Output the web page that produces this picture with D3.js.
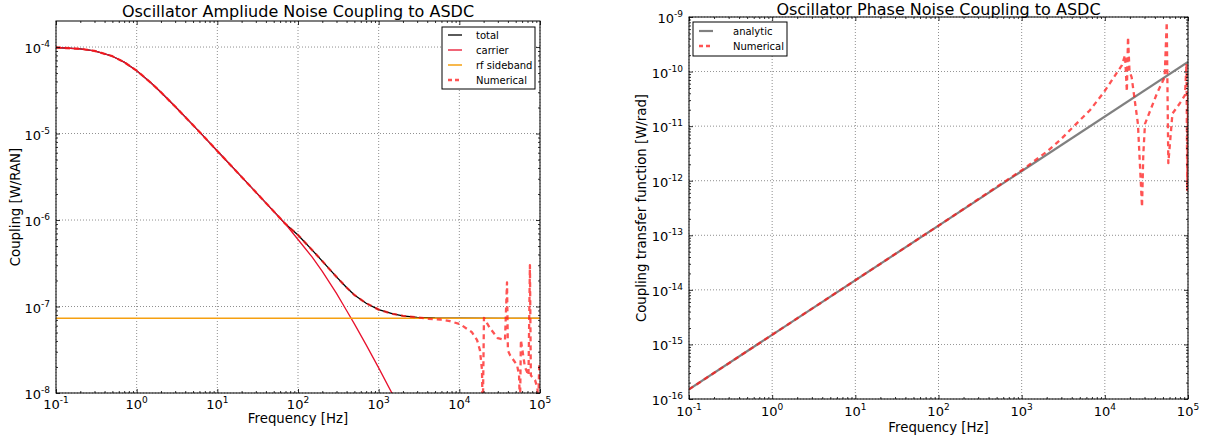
<!DOCTYPE html>
<html>
<head>
<meta charset="utf-8">
<script src="https://cdn.jsdelivr.net/npm/d3@7"></script>
<style>
    body { margin: 0; background: #fff; }
    svg { font-family: "DejaVu Sans", sans-serif; }
    .grid line { stroke: #000; stroke-width: 0.8; stroke-dasharray: 1, 2; opacity: 0.55; }
    .tick line { stroke: #000; stroke-width: 0.8; }
</style>
</head>
<body>
<svg id="chart" width="1206" height="440"></svg>
<script>
// amplitude noise coupling (left)
const ampFreq = [0.1, 0.2, 0.3, 0.5, 0.7, 1, 1.5, 2, 3, 5, 7, 10, 20, 30, 50, 70, 100, 150, 200, 300, 400, 500, 700, 1000, 1500, 2000, 3000, 5000, 10000, 100000];
const ampTotal = [9.88e-5, 9.53e-5, 9.03e-5, 7.83e-5, 6.69e-5, 5.33e-5, 3.87e-5, 3.0e-5, 2.05e-5, 1.25e-5, 8.96e-6, 6.29e-6, 3.15e-6, 2.1e-6, 1.26e-6, 9.0e-7, 6.71e-7, 4.49e-7, 3.35e-7, 2.2e-7, 1.66e-7, 1.36e-7, 1.09e-7, 9.2e-8, 8.2e-8, 7.8e-8, 7.5e-8, 7.37e-8, 7.32e-8, 7.3e-8];
const carrierFreq = [0.1, 0.2, 0.3, 0.5, 0.7, 1, 1.5, 2, 3, 5, 7, 10, 20, 30, 50, 70, 100, 150, 200, 300, 400, 500, 700, 1000, 1500, 2000];
const ampCarrier = [9.88e-5, 9.53e-5, 9.03e-5, 7.83e-5, 6.69e-5, 5.33e-5, 3.87e-5, 3.0e-5, 2.05e-5, 1.25e-5, 8.96e-6, 6.29e-6, 3.15e-6, 2.1e-6, 1.26e-6, 9.0e-7, 5.95e-7, 3.72e-7, 2.55e-7, 1.42e-7, 9.0e-8, 6.3e-8, 3.6e-8, 1.95e-8, 9.5e-9, 6e-9];
const sidebandFreq = [0.1, 100000];
const ampSideband = [7.3e-8, 7.3e-8];
const ampNumFreq = [0.1, 0.2, 0.3, 0.5, 0.7, 1, 1.5, 2, 3, 5, 7, 10, 20, 30, 50, 70, 100, 150, 200, 300, 400, 500, 700, 1000, 1500, 2000, 3000,
    4200, 5750, 7650, 10200, 14300, 16600, 18000, 19100, 19500, 20200, 24000, 30000, 36800, 39000, 40000, 42500, 52000, 55000, 56500, 58000,
    65000, 72000, 75000, 77000, 87000, 93000, 95000, 98000, 100000];
const ampNum = [9.88e-5, 9.53e-5, 9.03e-5, 7.83e-5, 6.69e-5, 5.33e-5, 3.87e-5, 3.0e-5, 2.05e-5, 1.25e-5, 8.96e-6, 6.29e-6, 3.15e-6, 2.1e-6, 1.26e-6, 9.0e-7, 6.71e-7, 4.49e-7, 3.35e-7, 2.2e-7, 1.66e-7, 1.36e-7, 1.09e-7, 9.2e-8, 8.2e-8, 7.8e-8, 7.5e-8,
    7.2e-8, 7.08e-8, 6.77e-8, 6.25e-8, 5.06e-8, 4.09e-8, 3.13e-8, 1.84e-8, 5e-9, 7.4e-8, 5.6e-8, 4.3e-8, 4.1e-8, 1.9e-7, 3.1e-8, 2.74e-8, 2.1e-8, 1.6e-8, 7e-9, 4.1e-8,
    2e-8, 1.6e-8, 3e-7, 1.6e-8, 1.4e-8, 1.14e-8, 7e-9, 2.2e-8, 1.4e-8];

// phase noise coupling (right)
const phaseFreq = [0.1, 100000];
const phaseAnalytic = [1.5e-16, 1.5e-10];
const phaseNumFreq = [0.1, 1, 10, 100, 1000, 2000, 2880, 4140, 6620, 9770, 16000, 17500, 18400, 19000, 19800, 21000, 25000, 28000, 29000, 30400,
    42400, 52400, 55500, 58000, 65000, 79500, 92000, 96000, 98000, 100000];
const phaseNum = [1.5e-16, 1.5e-15, 1.5e-14, 1.5e-13, 1.55e-12, 3.4e-12, 5.5e-12, 9.6e-12, 1.96e-11, 4.2e-11, 1.3e-10, 2e-10, 4.3e-11, 4.3e-10, 1e-10, 7.9e-11, 1.1e-11, 3.3e-13, 3e-12, 1.1e-11,
    4e-11, 7.9e-11, 8e-10, 2.1e-12, 1.7e-11, 2.6e-11, 3.7e-11, 1.4e-10, 6.7e-13, 4.5e-11];

// tick exponents
const xExps = [-1, 0, 1, 2, 3, 4, 5];
const ampYExps = [-8, -7, -6, -5, -4];
const phaseYExps = [-16, -15, -14, -13, -12, -11, -10, -9];

var svg = d3.select("#chart");

function minorTicks(domain) {
    var out = [];
    var e0 = Math.floor(Math.log10(domain[0])), e1 = Math.ceil(Math.log10(domain[1]));
    for (var e = e0; e < e1; e++) {
        for (var k = 2; k < 10; k++) {
            var v = k * Math.pow(10, e);
            if (v > domain[0] && v < domain[1]) out.push(v);
        }
    }
    return out;
}

function powLabel(sel, e) {
    sel.append("tspan").text("10");
    sel.append("tspan").attr("dy", -6).attr("font-size", 9).text(e);
}

function panel(o) {
    var width = o.width, height = o.height;
    var g = svg.append("g")
        .attr("transform", "translate(" + o.left + "," + o.top + ")");

    var x = d3.scaleLog().domain(o.xDomain).range([0, width]);
    var y = d3.scaleLog().domain(o.yDomain).range([height, 0]);

    var xMajor = o.xExps.map(e => Math.pow(10, e));
    var yMajor = o.yExps.map(e => Math.pow(10, e));

    // gridlines
    var grid = g.append("g").attr("class", "grid");
    grid.selectAll(".gx").data(xMajor).enter().append("line")
        .attr("x1", d => x(d)).attr("x2", d => x(d))
        .attr("y1", 0).attr("y2", height);
    grid.selectAll(".gy").data(yMajor).enter().append("line")
        .attr("x1", 0).attr("x2", width)
        .attr("y1", d => y(d)).attr("y2", d => y(d));

    // curves
    var clipId = "clip" + o.left;
    g.append("clipPath").attr("id", clipId)
        .append("rect").attr("width", width).attr("height", height);
    var plot = g.append("g").attr("clip-path", "url(#" + clipId + ")");
    var line = d3.line().x(d => x(d[0])).y(d => y(d[1]));
    o.series.forEach(function (s) {
        plot.append("path")
            .datum(d3.zip(s.x, s.y))
            .attr("fill", "none")
            .attr("stroke", s.color)
            .attr("stroke-width", s.width)
            .attr("stroke-opacity", s.opacity || 1)
            .attr("stroke-dasharray", s.dash || null)
            .attr("stroke-linejoin", "round")
            .attr("d", line);
    });

    // inward ticks on all four sides
    function tickAxes(vals, size) {
        [[d3.axisBottom(x), "translate(0," + height + ")"],
         [d3.axisTop(x), null]].forEach(function (a) {
            g.append("g").attr("transform", a[1])
                .call(a[0].tickValues(vals.x).tickSize(-size).tickFormat(""))
                .call(s => s.select(".domain").remove());
        });
        [[d3.axisLeft(y), null],
         [d3.axisRight(y), "translate(" + width + ",0)"]].forEach(function (a) {
            g.append("g").attr("transform", a[1])
                .call(a[0].tickValues(vals.y).tickSize(-size).tickFormat(""))
                .call(s => s.select(".domain").remove());
        });
    }
    tickAxes({ x: xMajor, y: yMajor }, 4);
    tickAxes({ x: minorTicks(o.xDomain), y: minorTicks(o.yDomain) }, 2);

    // frame
    g.append("rect")
        .attr("width", width).attr("height", height)
        .attr("fill", "none").attr("stroke", "#000").attr("stroke-width", 1);

    // tick labels
    g.selectAll(".xl").data(o.xExps).enter().append("text")
        .attr("x", e => x(Math.pow(10, e)))
        .attr("y", height + o.xLabelDy)
        .attr("text-anchor", "middle")
        .attr("font-size", 13)
        .each(function (e) { powLabel(d3.select(this), e); });
    g.selectAll(".yl").data(o.yExps).enter().append("text")
        .attr("x", -6)
        .attr("y", e => y(Math.pow(10, e)) + 6)
        .attr("text-anchor", "end")
        .attr("font-size", 13)
        .each(function (e) { powLabel(d3.select(this), e); });

    // titles
    g.append("text")
        .attr("x", width / 2).attr("y", o.titleY)
        .attr("text-anchor", "middle")
        .attr("font-size", 16)
        .text(o.title);
    g.append("text")
        .attr("x", width / 2).attr("y", height + o.xTitleDy)
        .attr("text-anchor", "middle")
        .attr("font-size", 13.3)
        .text("Frequency [Hz]");
    g.append("text")
        .attr("transform", "translate(" + o.yTitleX + "," + (height / 2) + ") rotate(-90)")
        .attr("text-anchor", "middle")
        .attr("font-size", 13.3)
        .text(o.yTitle);

    // legend
    var lg = g.append("g").attr("transform", "translate(" + o.legend.x + "," + o.legend.y + ")");
    lg.append("rect")
        .attr("width", o.legend.w).attr("height", o.legend.h)
        .attr("fill", "#fff").attr("stroke", "#000").attr("stroke-width", 1);
    var items = lg.selectAll(".item").data(o.series).enter().append("g")
        .attr("transform", (d, i) => "translate(0," + (o.legend.first + i * 15) + ")");
    items.append("line")
        .attr("x1", 6).attr("x2", 20)
        .attr("stroke", d => d.color)
        .attr("stroke-width", d => d.width)
        .attr("stroke-opacity", d => d.opacity || 1)
        .attr("stroke-dasharray", d => d.dash ? "4,3" : null);
    items.append("text")
        .attr("x", o.legend.textX).attr("y", 3.5)
        .attr("font-size", 10)
        .text(d => d.name);
}

panel({
    left: 56, top: 21, width: 484, height: 372,
    xDomain: [0.1, 1e5], yDomain: [1e-8, 2e-4],
    xExps: xExps, yExps: ampYExps,
    xLabelDy: 16, xTitleDy: 30, yTitleX: -36, titleY: -4,
    title: "Oscillator Ampliude Noise Coupling to ASDC",
    yTitle: "Coupling [W/RAN]",
    legend: { x: 386, y: 6, w: 93, h: 62, first: 8, textX: 34 },
    series: [
        { name: "total", x: ampFreq, y: ampTotal, color: "#000", width: 1.3 },
        { name: "carrier", x: carrierFreq, y: ampCarrier, color: "#e8112d", width: 1.3 },
        { name: "rf sideband", x: sidebandFreq, y: ampSideband, color: "#f5a010", width: 1.5 },
        { name: "Numerical", x: ampNumFreq, y: ampNum, color: "#ff1a1a", width: 2.3, opacity: 0.75, dash: "5,4" }
    ]
});

panel({
    left: 689, top: 17, width: 499, height: 382,
    xDomain: [0.1, 1e5], yDomain: [1e-16, 1e-9],
    xExps: xExps, yExps: phaseYExps,
    xLabelDy: 17, xTitleDy: 33, yTitleX: -43, titleY: -2,
    title: "Oscillator Phase Noise Coupling to ASDC",
    yTitle: "Coupling transfer function [W/rad]",
    legend: { x: 4, y: 5, w: 94, h: 34, first: 9, textX: 40 },
    series: [
        { name: "analytic", x: phaseFreq, y: phaseAnalytic, color: "#808080", width: 2.2 },
        { name: "Numerical", x: phaseNumFreq, y: phaseNum, color: "#ff1a1a", width: 2.3, opacity: 0.75, dash: "5,4" }
    ]
});
</script>
</body>
</html>
